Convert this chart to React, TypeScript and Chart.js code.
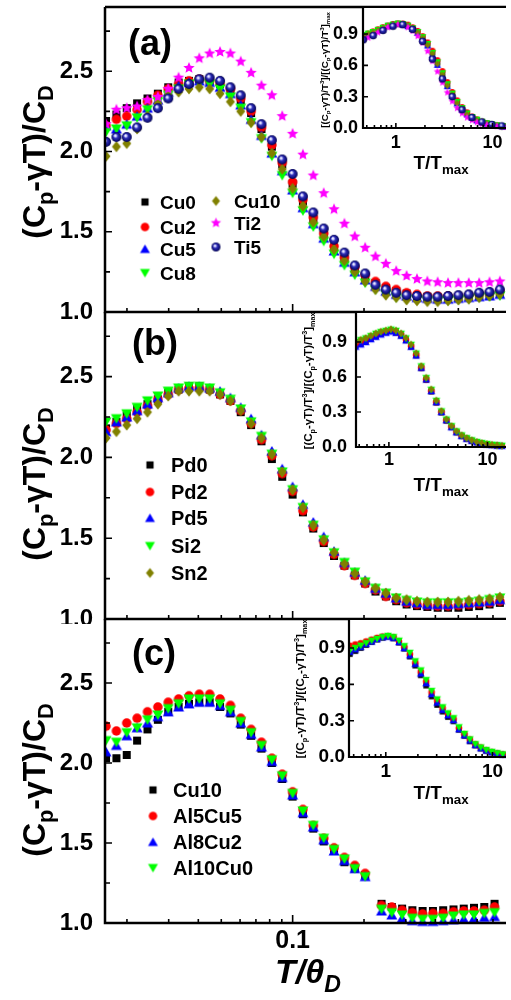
import React, { useEffect, useRef } from 'react';
import { Chart, registerables } from 'chart.js';

Chart.register(...registerables);

const FONT = '"Liberation Sans", Arial, Helvetica, sans-serif';

// ---------------- data: main panels (x = T/θD) ----------------
const XG = [0.01632, 0.01805, 0.01996, 0.02207, 0.02441, 0.02700, 0.02986, 0.03302, 0.03652, 0.04038,
  0.04466, 0.04939, 0.05462, 0.06040, 0.06680, 0.07388, 0.08170, 0.09036, 0.09993, 0.1105,
  0.1222, 0.1352, 0.1495, 0.1653, 0.1828, 0.2022, 0.2236, 0.2473, 0.2735, 0.3024,
  0.3345, 0.3699, 0.4090, 0.4524, 0.5003, 0.5533, 0.6119, 0.6767, 0.7483];

const A_CU0 = [2.19, 2.23, 2.27, 2.30, 2.33, 2.36, 2.40, 2.43, 2.44, 2.45, 2.44, 2.42, 2.38, 2.32, 2.24, 2.14, 2.03, 1.92, 1.80, 1.69, 1.58, 1.48, 1.40, 1.33, 1.27, 1.22, 1.18, 1.15, 1.13, 1.115, 1.10, 1.095, 1.09, 1.09, 1.09, 1.095, 1.10, 1.105, 1.115];
const A_CU2 = [2.16, 2.20, 2.22, 2.26, 2.31, 2.35, 2.39, 2.42, 2.44, 2.45, 2.44, 2.42, 2.39, 2.33, 2.25, 2.15, 2.04, 1.93, 1.81, 1.70, 1.59, 1.49, 1.41, 1.34, 1.28, 1.23, 1.19, 1.16, 1.14, 1.12, 1.11, 1.10, 1.10, 1.10, 1.10, 1.105, 1.11, 1.12, 1.13];
const A_CU5 = [2.16, 2.14, 2.17, 2.22, 2.27, 2.32, 2.37, 2.41, 2.43, 2.44, 2.43, 2.40, 2.36, 2.29, 2.20, 2.10, 1.99, 1.88, 1.76, 1.65, 1.55, 1.46, 1.38, 1.31, 1.25, 1.20, 1.16, 1.13, 1.11, 1.10, 1.09, 1.085, 1.08, 1.08, 1.085, 1.09, 1.095, 1.10, 1.11];
const A_CU8 = [2.12, 2.14, 2.16, 2.21, 2.26, 2.31, 2.35, 2.39, 2.42, 2.43, 2.42, 2.39, 2.34, 2.27, 2.18, 2.08, 1.97, 1.85, 1.74, 1.63, 1.53, 1.44, 1.36, 1.29, 1.23, 1.18, 1.14, 1.11, 1.09, 1.08, 1.075, 1.07, 1.07, 1.07, 1.075, 1.08, 1.09, 1.095, 1.10];
const A_CU10 = [1.97, 2.03, 2.05, 2.14, 2.22, 2.30, 2.35, 2.37, 2.39, 2.40, 2.39, 2.36, 2.31, 2.25, 2.18, 2.09, 1.99, 1.89, 1.77, 1.66, 1.56, 1.47, 1.39, 1.32, 1.25, 1.19, 1.14, 1.105, 1.09, 1.075, 1.07, 1.065, 1.065, 1.07, 1.075, 1.08, 1.09, 1.10, 1.11];
const A_TI2 = [2.17, 2.26, 2.27, 2.28, 2.32, 2.34, 2.39, 2.46, 2.52, 2.58, 2.61, 2.62, 2.61, 2.56, 2.49, 2.41, 2.35, 2.22, 2.11, 1.98, 1.85, 1.74, 1.64, 1.55, 1.47, 1.40, 1.345, 1.30, 1.255, 1.225, 1.205, 1.19, 1.185, 1.18, 1.18, 1.18, 1.18, 1.185, 1.19];
const A_TI5 = [2.06, 2.09, 2.09, 2.15, 2.21, 2.27, 2.33, 2.39, 2.42, 2.45, 2.46, 2.44, 2.40, 2.35, 2.27, 2.17, 2.07, 1.95, 1.86, 1.72, 1.62, 1.52, 1.45, 1.37, 1.29, 1.24, 1.17, 1.14, 1.12, 1.105, 1.10, 1.095, 1.095, 1.10, 1.105, 1.11, 1.12, 1.125, 1.14];

const B_PD0 = [2.18, 2.22, 2.26, 2.30, 2.33, 2.36, 2.40, 2.42, 2.44, 2.44, 2.42, 2.39, 2.35, 2.28, 2.20, 2.10, 1.99, 1.88, 1.77, 1.66, 1.56, 1.47, 1.39, 1.33, 1.27, 1.22, 1.17, 1.14, 1.11, 1.09, 1.08, 1.075, 1.07, 1.07, 1.07, 1.075, 1.08, 1.09, 1.10];
const B_PD2 = [2.17, 2.21, 2.24, 2.28, 2.32, 2.36, 2.39, 2.42, 2.43, 2.43, 2.42, 2.39, 2.35, 2.29, 2.21, 2.11, 2.01, 1.90, 1.79, 1.67, 1.57, 1.48, 1.40, 1.33, 1.27, 1.22, 1.18, 1.14, 1.12, 1.10, 1.09, 1.085, 1.08, 1.08, 1.085, 1.09, 1.095, 1.10, 1.11];
const B_PD5 = [2.16, 2.22, 2.25, 2.29, 2.33, 2.37, 2.40, 2.43, 2.44, 2.44, 2.43, 2.41, 2.37, 2.31, 2.24, 2.14, 2.04, 1.93, 1.82, 1.71, 1.60, 1.51, 1.42, 1.35, 1.29, 1.24, 1.19, 1.16, 1.13, 1.11, 1.10, 1.09, 1.09, 1.09, 1.095, 1.10, 1.105, 1.11, 1.12];
const B_SI2 = [2.22, 2.24, 2.27, 2.31, 2.35, 2.38, 2.41, 2.43, 2.44, 2.44, 2.43, 2.40, 2.36, 2.30, 2.22, 2.13, 2.02, 1.91, 1.80, 1.69, 1.58, 1.49, 1.41, 1.35, 1.29, 1.23, 1.19, 1.16, 1.13, 1.115, 1.105, 1.10, 1.10, 1.10, 1.10, 1.105, 1.11, 1.12, 1.13];
const B_SN2 = [2.12, 2.16, 2.20, 2.24, 2.28, 2.33, 2.38, 2.41, 2.41, 2.41, 2.41, 2.39, 2.35, 2.29, 2.21, 2.12, 2.02, 1.91, 1.80, 1.69, 1.58, 1.49, 1.41, 1.34, 1.28, 1.23, 1.19, 1.16, 1.13, 1.12, 1.11, 1.105, 1.105, 1.105, 1.11, 1.115, 1.12, 1.125, 1.135];

const XC1 = XG.slice(0, 26);
const C_CU10 = [2.03, 2.03, 2.05, 2.14, 2.21, 2.27, 2.32, 2.35, 2.37, 2.38, 2.38, 2.35, 2.31, 2.24, 2.17, 2.09, 2.00, 1.90, 1.79, 1.68, 1.59, 1.51, 1.45, 1.38, 1.34, 1.30];
const C_AL5 = [2.23, 2.20, 2.25, 2.28, 2.32, 2.35, 2.38, 2.40, 2.42, 2.43, 2.43, 2.40, 2.36, 2.28, 2.21, 2.13, 2.03, 1.93, 1.82, 1.71, 1.61, 1.53, 1.47, 1.41, 1.36, 1.31];
const C_AL8 = [2.07, 2.11, 2.17, 2.22, 2.25, 2.29, 2.32, 2.35, 2.37, 2.38, 2.38, 2.36, 2.32, 2.25, 2.18, 2.10, 2.01, 1.91, 1.80, 1.69, 1.60, 1.52, 1.45, 1.39, 1.34, 1.29];
const C_AL10 = [2.14, 2.13, 2.19, 2.22, 2.27, 2.30, 2.34, 2.37, 2.40, 2.40, 2.40, 2.37, 2.33, 2.26, 2.19, 2.11, 2.02, 1.92, 1.81, 1.70, 1.61, 1.53, 1.46, 1.40, 1.34, 1.29];
const XC2 = [0.2371, 0.2620, 0.2895, 0.3199, 0.3534, 0.3905, 0.4315, 0.4768, 0.5268, 0.5821, 0.6431, 0.7107];
const C2_CU10 = [1.12, 1.10, 1.09, 1.08, 1.075, 1.075, 1.08, 1.085, 1.09, 1.095, 1.10, 1.12];
const C2_AL5 = [1.11, 1.10, 1.08, 1.065, 1.057, 1.06, 1.06, 1.07, 1.075, 1.075, 1.08, 1.10];
const C2_AL8 = [1.075, 1.05, 1.03, 1.015, 1.01, 1.01, 1.015, 1.02, 1.025, 1.03, 1.035, 1.04];
const C2_AL10 = [1.086, 1.065, 1.05, 1.03, 1.023, 1.023, 1.03, 1.044, 1.05, 1.05, 1.06, 1.065];

// ---------------- data: insets (x = T/Tmax) ----------------
const XI = [0.46, 0.518, 0.582, 0.655, 0.737, 0.829, 0.933, 1.05, 1.18, 1.33, 1.49, 1.68, 1.89, 2.13, 2.39, 2.69, 3.03, 3.41, 3.83, 4.31, 4.85, 5.46, 6.14, 6.91, 7.77, 8.74, 9.84, 11.1, 12.5, 14.0];
const XI_TI5 = [0.46, 0.582, 0.737, 0.933, 1.18, 1.49, 1.89, 2.39, 3.03, 3.83, 4.85, 6.14, 7.77, 9.84, 12.5];
const XIC = XI.slice(0, 29);

const IA_CU0 = [0.885, 0.90, 0.92, 0.94, 0.96, 0.98, 0.99, 1.00, 0.995, 0.98, 0.955, 0.915, 0.865, 0.80, 0.715, 0.62, 0.515, 0.41, 0.32, 0.24, 0.18, 0.135, 0.10, 0.077, 0.058, 0.045, 0.034, 0.025, 0.018, 0.013];
const IA_CU2 = [0.89, 0.905, 0.925, 0.945, 0.965, 0.98, 0.995, 1.00, 1.0, 0.99, 0.965, 0.93, 0.88, 0.82, 0.74, 0.65, 0.545, 0.44, 0.345, 0.265, 0.20, 0.15, 0.11, 0.083, 0.062, 0.047, 0.035, 0.026, 0.019, 0.014];
const IA_CU5 = [0.88, 0.895, 0.915, 0.935, 0.955, 0.975, 0.99, 0.995, 0.99, 0.975, 0.95, 0.91, 0.855, 0.79, 0.70, 0.605, 0.50, 0.40, 0.31, 0.235, 0.175, 0.13, 0.097, 0.073, 0.055, 0.042, 0.032, 0.024, 0.017, 0.012];
const IA_CU8 = [0.89, 0.905, 0.92, 0.94, 0.96, 0.98, 0.99, 1.0, 0.995, 0.98, 0.955, 0.92, 0.87, 0.805, 0.72, 0.63, 0.525, 0.42, 0.33, 0.25, 0.19, 0.14, 0.105, 0.08, 0.06, 0.046, 0.035, 0.026, 0.019, 0.014];
const IA_CU10 = [0.88, 0.90, 0.915, 0.935, 0.955, 0.975, 0.99, 0.995, 0.995, 0.98, 0.955, 0.915, 0.86, 0.795, 0.71, 0.615, 0.51, 0.405, 0.315, 0.235, 0.175, 0.13, 0.096, 0.072, 0.054, 0.041, 0.031, 0.023, 0.016, 0.012];
const IA_TI2 = [0.85, 0.865, 0.89, 0.915, 0.94, 0.965, 0.98, 0.99, 0.985, 0.965, 0.93, 0.88, 0.815, 0.735, 0.64, 0.54, 0.435, 0.34, 0.255, 0.19, 0.14, 0.10, 0.074, 0.055, 0.041, 0.031, 0.023, 0.017, 0.013, 0.01];
const IA_TI5 = [0.845, 0.885, 0.935, 0.975, 0.99, 0.945, 0.83, 0.66, 0.47, 0.30, 0.175, 0.10, 0.058, 0.034, 0.02];

const IB_PD0 = [0.87, 0.885, 0.905, 0.93, 0.95, 0.97, 0.985, 0.995, 0.98, 0.955, 0.915, 0.86, 0.785, 0.675, 0.575, 0.475, 0.38, 0.295, 0.225, 0.17, 0.125, 0.093, 0.07, 0.053, 0.04, 0.03, 0.023, 0.017, 0.012, 0.009];
const IB_PD2 = [0.88, 0.895, 0.915, 0.935, 0.955, 0.975, 0.99, 1.0, 0.985, 0.96, 0.92, 0.865, 0.79, 0.68, 0.58, 0.48, 0.385, 0.30, 0.23, 0.175, 0.13, 0.097, 0.073, 0.055, 0.042, 0.032, 0.024, 0.018, 0.013, 0.01];
const IB_PD5 = [0.86, 0.88, 0.90, 0.925, 0.945, 0.965, 0.98, 0.99, 0.98, 0.955, 0.915, 0.86, 0.785, 0.68, 0.58, 0.48, 0.385, 0.30, 0.23, 0.17, 0.127, 0.095, 0.071, 0.054, 0.041, 0.031, 0.023, 0.017, 0.013, 0.01];
const IB_SI2 = [0.90, 0.915, 0.93, 0.95, 0.97, 0.985, 0.995, 1.005, 0.995, 0.97, 0.93, 0.875, 0.80, 0.69, 0.59, 0.49, 0.395, 0.305, 0.235, 0.178, 0.133, 0.099, 0.075, 0.057, 0.043, 0.033, 0.025, 0.018, 0.013, 0.01];
const IB_SN2 = [0.90, 0.92, 0.935, 0.955, 0.975, 0.99, 1.0, 1.01, 1.0, 0.975, 0.935, 0.88, 0.805, 0.695, 0.595, 0.495, 0.40, 0.31, 0.238, 0.18, 0.135, 0.10, 0.076, 0.058, 0.044, 0.034, 0.025, 0.019, 0.014, 0.01];

const IC_CU10 = [0.85, 0.875, 0.90, 0.925, 0.95, 0.97, 0.985, 0.995, 0.98, 0.945, 0.895, 0.83, 0.755, 0.675, 0.59, 0.50, 0.43, 0.375, 0.33, 0.295, 0.225, 0.175, 0.13, 0.095, 0.07, 0.052, 0.038, 0.027, 0.019];
const IC_AL5 = [0.92, 0.93, 0.94, 0.955, 0.97, 0.985, 0.995, 1.0, 0.99, 0.955, 0.91, 0.85, 0.78, 0.705, 0.625, 0.535, 0.465, 0.405, 0.355, 0.315, 0.24, 0.19, 0.145, 0.105, 0.078, 0.057, 0.042, 0.03, 0.021];
const IC_AL8 = [0.87, 0.89, 0.91, 0.935, 0.955, 0.975, 0.99, 0.995, 0.985, 0.95, 0.90, 0.84, 0.77, 0.69, 0.61, 0.52, 0.45, 0.39, 0.345, 0.305, 0.23, 0.18, 0.137, 0.10, 0.073, 0.054, 0.04, 0.028, 0.02];
const IC_AL10 = [0.88, 0.90, 0.92, 0.94, 0.96, 0.975, 0.99, 1.0, 0.99, 0.96, 0.915, 0.86, 0.79, 0.715, 0.635, 0.545, 0.475, 0.41, 0.36, 0.32, 0.245, 0.19, 0.145, 0.105, 0.078, 0.057, 0.042, 0.03, 0.021];

// axis ranges and tick labels
const MAIN_X = [0.01616, 0.7943];
const MAIN_Y = [1.0, 2.9];
const X_LABELS = [0.1];
const INSET_X_LABELS = [1, 10];

// ---------------- styles ----------------
const C = { k: '#000000', r: '#ff0000', b: '#0000ff', g: '#00ff00', o: '#808000', m: '#ff00ff', n: '#000080' };

const YTITLE = [{ t: '(C' }, { t: 'p', s: 'sub' }, { t: '-\u03b3T)/C' }, { t: 'D', s: 'sub' }];
const XTITLE = [{ t: 'T/\u03b8' }, { t: 'D', s: 'sub' }];
const IXTITLE = [{ t: 'T/T' }, { t: 'max', s: 'sub' }];
const IYTITLE = [{ t: '[(C' }, { t: 'p', s: 'sub' }, { t: '-\u03b3T)/T' }, { t: '3', s: 'sup' }, { t: ']/[(C' }, { t: 'p', s: 'sub' }, { t: '-\u03b3T)/T' }, { t: '3', s: 'sup' }, { t: ']' }, { t: 'max', s: 'sub' }];

function fontStr(size: number, italic = false) {
  return `${italic ? 'italic ' : ''}bold ${size}px ${FONT}`;
}

function marker(shape: string, color: string, s: number): HTMLCanvasElement {
  const S = Math.ceil(s * 1.4) + 2;
  const c = document.createElement('canvas');
  c.width = S; c.height = S;
  const g = c.getContext('2d') as CanvasRenderingContext2D;
  const cx = S / 2, cy = S / 2, r = s / 2;
  g.fillStyle = color;
  g.beginPath();
  if (shape === 'square') {
    const h = s * 0.4; g.rect(cx - h, cy - h, 2 * h, 2 * h);
  } else if (shape === 'circle') {
    g.arc(cx, cy, s * 0.475, 0, Math.PI * 2);
  } else if (shape === 'tri') {
    g.moveTo(cx, cy - s * 0.5); g.lineTo(cx + s * 0.55, cy + s * 0.45); g.lineTo(cx - s * 0.55, cy + s * 0.45); g.closePath();
  } else if (shape === 'tridown') {
    g.moveTo(cx, cy + s * 0.5); g.lineTo(cx + s * 0.55, cy - s * 0.45); g.lineTo(cx - s * 0.55, cy - s * 0.45); g.closePath();
  } else if (shape === 'diamond') {
    g.moveTo(cx, cy - s * 0.55); g.lineTo(cx + s * 0.45, cy); g.lineTo(cx, cy + s * 0.55); g.lineTo(cx - s * 0.45, cy); g.closePath();
  } else if (shape === 'star') {
    const ro = s * 0.6, ri = ro * 0.45;
    for (let i = 0; i < 10; i++) {
      const a = -Math.PI / 2 + (i * Math.PI) / 5;
      const rr = i % 2 ? ri : ro;
      const px = cx + rr * Math.cos(a), py = cy + rr * Math.sin(a);
      if (i) g.lineTo(px, py); else g.moveTo(px, py);
    }
    g.closePath();
  } else if (shape === 'sphere') {
    const grd = g.createRadialGradient(cx - r * 0.3, cy - r * 0.35, 0, cx, cy, r);
    grd.addColorStop(0, '#ffffff');
    grd.addColorStop(0.22, '#d0d0ff');
    grd.addColorStop(0.45, '#3030b8');
    grd.addColorStop(0.8, '#101080');
    grd.addColorStop(1, '#000048');
    g.fillStyle = grd;
    g.arc(cx, cy, r, 0, Math.PI * 2);
  }
  g.fill();
  return c;
}

function measureRich(ctx: any, segs: any[], size: number, italic: boolean, sub: number) {
  let w = 0;
  for (const sg of segs) {
    ctx.font = fontStr(sg.s ? size * sub : size, italic);
    w += ctx.measureText(sg.t).width;
  }
  return w;
}

function drawRich(ctx: any, segs: any[], x: number, y: number, size: number, o: any = {}) {
  const sub = o.sub ?? 0.68;
  const italic = !!o.italic;
  let sz = size;
  if (o.fit) sz = (sz * o.fit) / measureRich(ctx, segs, sz, italic, sub);
  const w = measureRich(ctx, segs, sz, italic, sub);
  ctx.save();
  ctx.translate(x, y);
  if (o.rotate) ctx.rotate(-Math.PI / 2);
  ctx.fillStyle = '#000';
  ctx.textBaseline = 'alphabetic';
  ctx.textAlign = 'left';
  let cx = o.align === 'left' ? 0 : -w / 2;
  for (const sg of segs) {
    const fs = sg.s ? sz * sub : sz;
    ctx.font = fontStr(fs, italic);
    const dy = sg.s === 'sub' ? sz * 0.25 : sg.s === 'sup' ? -sz * 0.4 : 0;
    ctx.fillText(sg.t, cx, dy);
    cx += ctx.measureText(sg.t).width;
  }
  ctx.restore();
}

function logTicks(min: number, max: number) {
  const out: { v: number; major: boolean }[] = [];
  for (let e = Math.floor(Math.log10(min)); e <= Math.ceil(Math.log10(max)); e++) {
    for (let m = 1; m <= 9; m++) {
      const v = m * Math.pow(10, e);
      if (v >= min * 0.999 && v <= max * 1.001) out.push({ v, major: m === 1 });
    }
  }
  return out;
}

function drawFrame(chart: any, f: any) {
  const { ctx, chartArea: a, scales } = chart;
  const xs = scales.x, ys = scales.y;
  ctx.save();
  ctx.strokeStyle = '#000';
  ctx.lineCap = 'butt';
  ctx.lineWidth = 1.6;
  ctx.beginPath();
  for (const t of logTicks(xs.min, xs.max)) {
    const px = xs.getPixelForValue(t.v);
    const L = t.major ? f.xMajor : f.xMinor;
    ctx.moveTo(px, a.bottom); ctx.lineTo(px, a.bottom - L);
  }
  for (const t of ys.ticks) {
    const py = ys.getPixelForValue(t.value);
    const L = t.label ? f.yMajor : f.yMinor;
    if (L > 0) { ctx.moveTo(a.left, py); ctx.lineTo(a.left + L, py); }
  }
  ctx.stroke();
  ctx.lineWidth = f.lw;
  ctx.beginPath();
  ctx.moveTo(a.left, a.top); ctx.lineTo(a.left, a.bottom); ctx.lineTo(a.right, a.bottom);
  if (f.top) { ctx.moveTo(a.left, a.top); ctx.lineTo(a.right, a.top); }
  ctx.stroke();
  ctx.restore();
}

function pts(xs: number[], ys: number[]) {
  return xs.map((x, i) => ({ x, y: ys[i] }));
}

function makeDatasets(series: any[], size: number, clipBottom: number) {
  return series.map((s, i) => ({
    label: s.label,
    data: pts(s.x, s.y),
    pointStyle: marker(s.shape, s.color, s.size ?? size),
    pointRadius: 4,
    showLine: false,
    order: -i,
    clip: { left: 0, top: 0, right: 0, bottom: clipBottom },
  }));
}

function mainChart(canvas: HTMLCanvasElement, p: any) {
  const deco = {
    id: 'mainDeco' + p.tag,
    afterDatasetsDraw(chart: any) {
      const ctx = chart.ctx;
      drawFrame(chart, { top: p.top, lw: 2.5, yMajor: 7, yMinor: 5, xMajor: 8, xMinor: 4 });
      ctx.save();
      ctx.translate(-p.x, -p.y);
      drawRich(ctx, YTITLE, 45, p.titleY, 32, { rotate: true });
      ctx.font = fontStr(36);
      ctx.fillStyle = '#000';
      ctx.textAlign = 'left';
      ctx.textBaseline = 'alphabetic';
      ctx.fillText(p.tag, p.tagX, p.tagY);
      p.legend.forEach((l: any) => {
        const s = p.series[l.i];
        const img = marker(s.shape, s.color, 9);
        ctx.drawImage(img, l.mx - img.width / 2, l.y - img.height / 2);
        ctx.font = fontStr(p.legendFont);
        ctx.fillStyle = '#000';
        ctx.fillText(s.label, l.tx, l.y + p.legendFont * 0.36);
      });
      if (p.xTitle) drawRich(ctx, XTITLE, 275, 983, 34, { align: 'left', italic: true });
      ctx.restore();
    },
  };
  return new Chart(canvas, {
    type: 'scatter',
    data: { datasets: makeDatasets(p.series, 10, 6) as any },
    options: {
      responsive: false,
      maintainAspectRatio: false,
      animation: false,
      devicePixelRatio: 1,
      events: [],
      layout: { padding: { top: p.padTop, right: 0, bottom: 0, left: 0 } },
      plugins: { legend: { display: false }, tooltip: { enabled: false } },
      scales: {
        x: {
          type: 'logarithmic',
          min: MAIN_X[0],
          max: MAIN_X[1],
          grid: { display: false, drawTicks: false },
          border: { display: false },
          ticks: {
            display: p.showX,
            autoSkip: false,
            maxRotation: 0,
            padding: 3,
            color: '#000',
            font: { size: 25, weight: 'bold', family: FONT },
            callback: (v: any) => {
              const hit = X_LABELS.find((t) => Math.abs(Number(v) - t) < 1e-9);
              return hit !== undefined ? String(hit) : '';
            },
          },
          afterFit: (s: any) => { s.height = p.xH; s.paddingLeft = 0; s.paddingRight = 0; },
        },
        y: {
          type: 'linear',
          min: MAIN_Y[0],
          max: MAIN_Y[1],
          grid: { display: false, drawTicks: false },
          border: { display: false },
          ticks: {
            stepSize: 0.25,
            includeBounds: false,
            padding: 12,
            color: '#000',
            font: { size: 24, weight: 'bold', family: FONT },
            callback: (v: any) => (Math.abs(v * 2 - Math.round(v * 2)) < 1e-6 ? Number(v).toFixed(1) : ''),
          },
          afterFit: (s: any) => { s.width = 105; s.paddingTop = 0; s.paddingBottom = 0; },
        },
      },
    } as any,
    plugins: [deco],
  });
}

function insetChart(canvas: HTMLCanvasElement, p: any) {
  const deco = {
    id: 'insetDeco' + p.y,
    beforeDraw(chart: any) {
      const a = chart.chartArea;
      if (!a) return;
      chart.ctx.save();
      chart.ctx.fillStyle = '#ffffff';
      chart.ctx.fillRect(a.left, a.top, a.right - a.left, a.bottom - a.top);
      chart.ctx.restore();
    },
    afterDatasetsDraw(chart: any) {
      const ctx = chart.ctx;
      drawFrame(chart, { top: true, lw: 2.2, yMajor: 5, yMinor: 0, xMajor: 5, xMinor: 3 });
      ctx.save();
      ctx.translate(-p.x, -p.y);
      drawRich(ctx, IYTITLE, p.ytX, p.ytY, 9, { rotate: true, fit: p.ytLen, sub: 0.62 });
      drawRich(ctx, IXTITLE, 441, p.xtY, 19, { sub: 0.7 });
      ctx.restore();
    },
  };
  return new Chart(canvas, {
    type: 'scatter',
    data: { datasets: makeDatasets(p.series, p.msize, 4) as any },
    options: {
      responsive: false,
      maintainAspectRatio: false,
      animation: false,
      devicePixelRatio: 1,
      events: [],
      layout: { padding: { top: p.padTop, right: 0, bottom: 0, left: 0 } },
      plugins: { legend: { display: false }, tooltip: { enabled: false } },
      scales: {
        x: {
          type: 'logarithmic',
          min: p.xmin,
          max: p.xmax,
          grid: { display: false, drawTicks: false },
          border: { display: false },
          ticks: {
            autoSkip: false,
            maxRotation: 0,
            padding: p.xPad,
            color: '#000',
            font: { size: p.tickFont, weight: 'bold', family: FONT },
            callback: (v: any) => {
              const hit = INSET_X_LABELS.find((t) => Math.abs(Number(v) - t) < 1e-9);
              return hit !== undefined ? String(hit) : '';
            },
          },
          afterFit: (s: any) => { s.height = p.xH; s.paddingLeft = 0; s.paddingRight = 0; },
        },
        y: {
          type: 'linear',
          min: 0,
          max: p.ymax,
          grid: { display: false, drawTicks: false },
          border: { display: false },
          ticks: {
            stepSize: 0.3,
            includeBounds: false,
            padding: p.yPad,
            color: '#000',
            font: { size: p.tickFont, weight: 'bold', family: FONT },
            callback: (v: any) => Number(v).toFixed(1),
          },
          afterFit: (s: any) => { s.width = p.yW; s.paddingTop = 0; s.paddingBottom = 0; },
        },
      },
    } as any,
    plugins: [deco],
  });
}

const SER_A = [
  { label: 'Cu0', shape: 'square', color: C.k, x: XG, y: A_CU0 },
  { label: 'Cu2', shape: 'circle', color: C.r, x: XG, y: A_CU2 },
  { label: 'Cu5', shape: 'tri', color: C.b, x: XG, y: A_CU5 },
  { label: 'Cu8', shape: 'tridown', color: C.g, x: XG, y: A_CU8 },
  { label: 'Cu10', shape: 'diamond', color: C.o, x: XG, y: A_CU10 },
  { label: 'Ti2', shape: 'star', color: C.m, x: XG, y: A_TI2 },
  { label: 'Ti5', shape: 'sphere', color: C.n, x: XG, y: A_TI5 },
];
const SER_B = [
  { label: 'Pd0', shape: 'square', color: C.k, x: XG, y: B_PD0 },
  { label: 'Pd2', shape: 'circle', color: C.r, x: XG, y: B_PD2 },
  { label: 'Pd5', shape: 'tri', color: C.b, x: XG, y: B_PD5 },
  { label: 'Si2', shape: 'tridown', color: C.g, x: XG, y: B_SI2 },
  { label: 'Sn2', shape: 'diamond', color: C.o, x: XG, y: B_SN2 },
];
const SER_C = [
  { label: 'Cu10', shape: 'square', color: C.k, x: XC1.concat(XC2), y: C_CU10.concat(C2_CU10) },
  { label: 'Al5Cu5', shape: 'circle', color: C.r, x: XC1.concat(XC2), y: C_AL5.concat(C2_AL5) },
  { label: 'Al8Cu2', shape: 'tri', color: C.b, x: XC1.concat(XC2), y: C_AL8.concat(C2_AL8) },
  { label: 'Al10Cu0', shape: 'tridown', color: C.g, x: XC1.concat(XC2), y: C_AL10.concat(C2_AL10) },
];
const SER_IA = [
  { label: 'Cu0', shape: 'square', color: C.k, x: XI, y: IA_CU0 },
  { label: 'Cu2', shape: 'circle', color: C.r, x: XI, y: IA_CU2 },
  { label: 'Cu5', shape: 'tri', color: C.b, x: XI, y: IA_CU5 },
  { label: 'Cu8', shape: 'tridown', color: C.g, x: XI, y: IA_CU8 },
  { label: 'Cu10', shape: 'diamond', color: C.o, x: XI, y: IA_CU10 },
  { label: 'Ti2', shape: 'star', color: C.m, x: XI, y: IA_TI2 },
  { label: 'Ti5', shape: 'sphere', color: C.n, x: XI_TI5, y: IA_TI5, size: 7.5 },
];
const SER_IB = [
  { label: 'Pd0', shape: 'square', color: C.k, x: XI, y: IB_PD0 },
  { label: 'Pd2', shape: 'circle', color: C.r, x: XI, y: IB_PD2 },
  { label: 'Pd5', shape: 'tri', color: C.b, x: XI, y: IB_PD5 },
  { label: 'Si2', shape: 'tridown', color: C.g, x: XI, y: IB_SI2 },
  { label: 'Sn2', shape: 'diamond', color: C.o, x: XI, y: IB_SN2 },
];
const SER_IC = [
  { label: 'Cu10', shape: 'square', color: C.k, x: XIC, y: IC_CU10 },
  { label: 'Al5Cu5', shape: 'circle', color: C.r, x: XIC, y: IC_AL5 },
  { label: 'Al8Cu2', shape: 'tri', color: C.b, x: XIC, y: IC_AL8 },
  { label: 'Al10Cu0', shape: 'tridown', color: C.g, x: XIC, y: IC_AL10 },
];

const MAINS = [
  {
    tag: '(a)', x: 0, y: 0, w: 511, h: 320, padTop: 7, xH: 8, top: true, showX: false, titleY: 162, tagX: 128, tagY: 55,
    series: SER_A, legendFont: 19,
    legend: [
      { i: 0, mx: 145, tx: 160, y: 202 }, { i: 1, mx: 145, tx: 160, y: 227 }, { i: 2, mx: 145, tx: 160, y: 249 }, { i: 3, mx: 145, tx: 160, y: 273 },
      { i: 4, mx: 216, tx: 234, y: 201 }, { i: 5, mx: 216, tx: 234, y: 223 }, { i: 6, mx: 216, tx: 234, y: 247 },
    ],
  },
  {
    tag: '(b)', x: 0, y: 304, w: 511, h: 320, padTop: 8, xH: 5, top: false, showX: false, titleY: 484, tagX: 132, tagY: 355,
    series: SER_B, legendFont: 20,
    legend: [465, 492, 518, 546, 573].map((y, i) => ({ i, mx: 150, tx: 171, y })),
  },
  {
    tag: '(c)', x: 0, y: 612, w: 511, h: 388, padTop: 7, xH: 77, top: false, showX: true, titleY: 780, tagX: 132, tagY: 665, xTitle: true,
    series: SER_C, legendFont: 20,
    legend: [790, 816, 842, 868].map((y, i) => ({ i, mx: 153, tx: 173, y })),
  },
];

const INSETS = [
  { x: 290, y: 0, w: 221, h: 180, padTop: 7, yW: 73, xH: 52, xmin: 0.457, xmax: 13.8, ymax: 1.159, yPad: 5, xPad: 4, tickFont: 18, ytX: 328, ytY: 70, ytLen: 116, xtY: 169, series: SER_IA, msize: 6.5 },
  { x: 280, y: 304, w: 231, h: 200, padTop: 8, yW: 76, xH: 57, xmin: 0.464, xmax: 15.4, ymax: 1.157, yPad: 9, xPad: 2, tickFont: 18, ytX: 312, ytY: 381, ytLen: 137, xtY: 491, series: SER_IB, msize: 7 },
  { x: 275, y: 612, w: 236, h: 200, padTop: 7, yW: 74, xH: 55, xmin: 0.452, xmax: 13.4, ymax: 1.14, yPad: 4, xPad: 3, tickFont: 19, ytX: 304, ytY: 689, ytLen: 139, xtY: 799, series: SER_IC, msize: 7 },
];

const LAYOUT = [...MAINS, ...INSETS];

export default function App() {
  const refs = useRef<(HTMLCanvasElement | null)[]>([]);
  useEffect(() => {
    document.body.style.margin = '0';
    const charts: Chart[] = [];
    MAINS.forEach((p, i) => { const c = refs.current[i]; if (c) charts.push(mainChart(c, p)); });
    INSETS.forEach((p, i) => { const c = refs.current[MAINS.length + i]; if (c) charts.push(insetChart(c, p)); });
    return () => charts.forEach((c) => c.destroy());
  }, []);
  return (
    <div style={{ position: 'fixed', left: 0, top: 0, width: 511, height: 1000, background: '#fff', overflow: 'hidden' }}>
      {LAYOUT.map((l, i) => (
        <canvas
          key={i}
          ref={(el) => { refs.current[i] = el; }}
          width={l.w}
          height={l.h}
          style={{ position: 'absolute', left: l.x, top: l.y, width: l.w, height: l.h }}
        />
      ))}
    </div>
  );
}
